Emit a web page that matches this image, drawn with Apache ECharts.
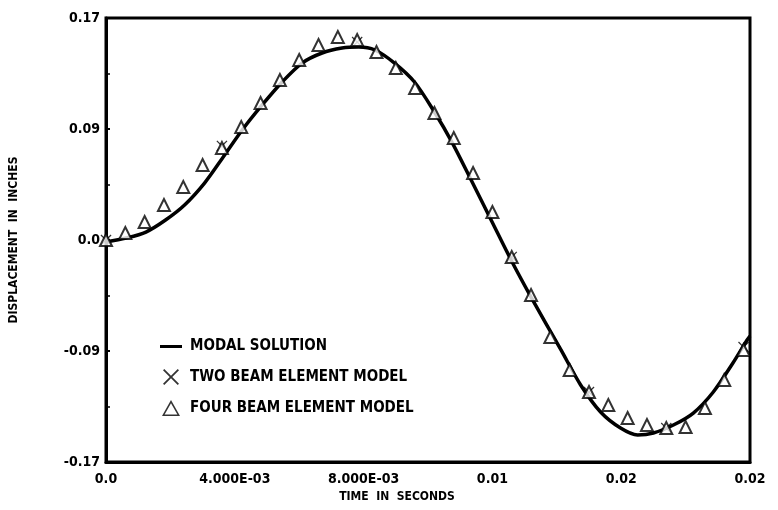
<!DOCTYPE html>
<html>
<head>
<meta charset="utf-8">
<script src="https://cdn.jsdelivr.net/npm/echarts@6/dist/echarts.min.js"></script>
<style>
html,body{margin:0;padding:0;background:#fff;}
#chart{width:778px;height:510px;}
</style>
</head>
<body>
<div id="chart"></div>
<script>
// ---- data ----
const timeModal = [0, 0.00062, 0.00124, 0.00185, 0.00244, 0.00306, 0.00362, 0.00423, 0.00485, 0.00547,
  0.00609, 0.00671, 0.00733, 0.00785, 0.00835, 0.00896, 0.00958, 0.01020, 0.01073, 0.01134,
  0.01196, 0.01258, 0.01320, 0.01413, 0.01474, 0.01536, 0.01598, 0.01651, 0.01700,
  0.01762, 0.01824, 0.01886, 0.01947, 0.01991, 0.02000];
const dispModal = [-0.0015, 0.0015, 0.0061, 0.0153, 0.0268, 0.0436, 0.0628, 0.0842, 0.1034, 0.1210,
  0.1355, 0.1432, 0.1470, 0.1478, 0.1455, 0.1355, 0.1210, 0.0980, 0.0755, 0.0459,
  0.0153, -0.0153, -0.0437, -0.0842, -0.1110, -0.1317, -0.1440, -0.1493, -0.1478,
  -0.1417, -0.1325, -0.1164, -0.0942, -0.0766, -0.0735];

const timeFour = [0, 0.0006, 0.0012, 0.0018, 0.0024, 0.0030, 0.0036, 0.0042, 0.0048, 0.0054,
  0.0060, 0.0066, 0.0072, 0.0078, 0.0084, 0.0090, 0.0096, 0.0102, 0.0108, 0.0114,
  0.0120, 0.0126, 0.0132, 0.0138, 0.0144, 0.0150, 0.0156, 0.0162, 0.0168, 0.0174,
  0.0180, 0.0186, 0.0192, 0.0198];
const dispFour = [0.0, 0.0054, 0.0138, 0.0268, 0.0406, 0.0574, 0.0705, 0.0865, 0.1049, 0.1225,
  0.1378, 0.1493, 0.1555, 0.1532, 0.1440, 0.1317, 0.1164, 0.0973, 0.0781, 0.0513,
  0.0214, -0.0130, -0.0421, -0.0743, -0.0996, -0.1164, -0.1264, -0.1363, -0.1417, -0.1440,
  -0.1432, -0.1286, -0.1072, -0.0842];

const timeTwo = [0, 0.0036, 0.0078, 0.0126, 0.0150, 0.0174, 0.0198];
const dispTwo = [0.0, 0.0720, 0.1516, -0.0130, -0.1164, -0.1440, -0.0820];

const xTickLabels = ['0.0', '4.000E-03', '8.000E-03', '0.01', '0.02', '0.02'];
const yTickLabels = ['-0.17', '-0.09', '0.0', '0.09', '0.17'];

const seriesNames = ['MODAL SOLUTION', 'TWO BEAM ELEMENT MODEL', 'FOUR BEAM ELEMENT MODEL'];

// ---- chart ----
const FONT = '"DejaVu Sans Condensed", "DejaVu Sans", sans-serif';
const crossPath = 'path://M0,0.8 L0.8,0 L5,4.2 L9.2,0 L10,0.8 L5.8,5 L10,9.2 L9.2,10 L5,5.8 L0.8,10 L0,9.2 L4.2,5 Z';
const legendLine = 'path://M0,6 L22,6 L22,9 L0,9 Z M-3,0 L-3,0.01 L-2.99,0 Z M25,15 L25,14.99 L24.99,15 Z';
const legendTri = 'path://M9,0 L18,16 L0,16 Z M9,3.2 L2.6,14.6 L15.4,14.6 Z';

const chart = echarts.init(document.getElementById('chart'), null, {renderer: 'canvas'});
chart.setOption({
  animation: false,
  backgroundColor: '#fff',
  grid: {left: 103, right: 28, top: 18, bottom: 48, show: true, borderColor: '#000', borderWidth: 3},
  legend: {
    orient: 'vertical', left: 157, top: 339, padding: 0, itemGap: 15, itemWidth: 28, itemHeight: 16,
    data: [
      {name: seriesNames[0], icon: legendLine, itemStyle: {color: '#000', borderWidth: 0}},
      {name: seriesNames[1], icon: crossPath, itemStyle: {color: '#000', borderWidth: 0}},
      {name: seriesNames[2], icon: legendTri, itemStyle: {color: '#000', borderWidth: 0}}
    ],
    textStyle: {fontFamily: FONT, fontWeight: 'bold', fontSize: 15, color: '#000'}
  },
  xAxis: {
    type: 'value', min: 0, max: 0.02, interval: 0.004,
    name: 'TIME  IN  SECONDS', nameLocation: 'middle', nameGap: 27,
    nameTextStyle: {fontFamily: FONT, fontWeight: 'bold', fontSize: 12, color: '#000', padding: [0, 62, 0, 0]},
    axisLine: {show: true, onZero: false, lineStyle: {color: '#000', width: 3}},
    axisTick: {show: false},
    splitLine: {show: false},
    axisLabel: {
      margin: 10, fontFamily: FONT, fontWeight: 'bold', fontSize: 14, color: '#000',
      formatter: v => xTickLabels[Math.round(v / 0.004)]
    }
  },
  yAxis: {
    type: 'value', min: -0.17, max: 0.17, interval: 0.085,
    name: 'DISPLACEMENT  IN  INCHES', nameLocation: 'middle', nameGap: 86, nameRotate: 90,
    nameTextStyle: {fontFamily: FONT, fontWeight: 'bold', fontSize: 12, color: '#000'},
    axisLine: {show: true, onZero: false, lineStyle: {color: '#000', width: 3}},
    axisTick: {show: true, inside: true, length: 4, lineStyle: {color: '#000', width: 2}},
    minorTick: {show: true, splitNumber: 2, length: 4, lineStyle: {color: '#000', width: 1.5}},
    splitLine: {show: false},
    axisLabel: {
      margin: 6, fontFamily: FONT, fontWeight: 'bold', fontSize: 14, color: '#000',
      formatter: v => yTickLabels[Math.round(v / 0.085) + 2]
    }
  },
  series: [
    {
      name: seriesNames[0], type: 'line', smooth: 0.3, showSymbol: false, symbol: 'none',
      lineStyle: {color: '#000', width: 3.5}, itemStyle: {color: '#000'},
      data: timeModal.map((t, i) => [t, dispModal[i]]), z: 3
    },
    {
      name: seriesNames[1], type: 'scatter', symbol: crossPath, symbolSize: 11,
      itemStyle: {color: '#000'},
      data: timeTwo.map((t, i) => [t, dispTwo[i]]), z: 4
    },
    {
      name: seriesNames[2], type: 'scatter', symbol: 'triangle', symbolSize: 12,
      itemStyle: {color: '#fff', borderColor: '#000', borderWidth: 2},
      data: timeFour.map((t, i) => [t, dispFour[i]]), z: 5
    }
  ]
});
</script>
</body>
</html>
